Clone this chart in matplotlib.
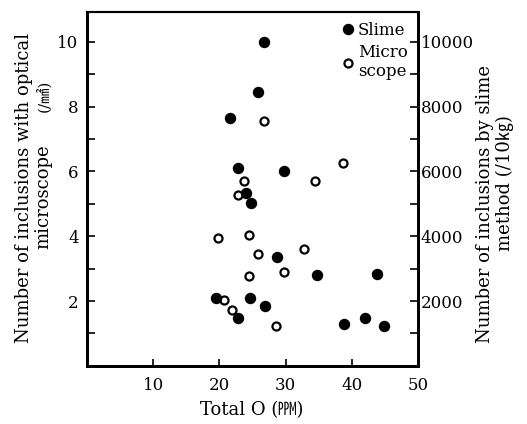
import numpy as np
import matplotlib
matplotlib.use("Agg")
import matplotlib.pyplot as plt
from matplotlib.ticker import MultipleLocator

plt.rcParams["font.family"] = ["DejaVu Serif", "Noto Sans CJK JP"]

# ── data ────────────────────────────────────────────────────────────────────
slime_o = [26.7, 25.8, 21.6, 22.8, 29.8, 24.1, 24.8, 28.7, 34.8, 43.8,
           19.5, 24.7, 22.8, 26.9, 38.8, 42.0, 44.9]
slime_n = [10000, 8440, 7650, 6110, 6010, 5340, 5030, 3360, 2800, 2830,
           2090, 2110, 1470, 1860, 1280, 1480, 1220]          # /10 kg

micro_o = [26.8, 23.8, 22.8, 19.8, 24.5, 25.8, 32.8, 29.7, 24.5, 20.7,
           21.9, 28.6, 38.7, 34.5]
micro_n = [7.55, 5.70, 5.27, 3.93, 4.04, 3.45, 3.60, 2.90, 2.76, 2.03,
           1.73, 1.24, 6.27, 5.70]                            # /mm2

x_ticks = [10, 20, 30, 40, 50]
left_ticks = [2, 4, 6, 8, 10]
right_ticks = [2000, 4000, 6000, 8000, 10000]

fig = plt.figure(figsize=(5.27, 4.24), dpi=100)
ax = fig.add_axes([0.165, 0.137, 0.628, 0.835])
ax2 = ax.twinx()

ax.plot(micro_o, micro_n, "o", ms=5.8, mfc="white", mec="black", mew=1.6,
        label="Micro\nscope", zorder=3)
ax2.plot(slime_o, slime_n, "o", ms=7.2, mfc="black", mec="black",
         label="Slime", zorder=3)

ax.set_xlim(0, 50)
ax.set_ylim(0, 10.92)
ax2.set_ylim(0, 10920)

ax.set_xticks(x_ticks)
ax.set_yticks(left_ticks)
ax.yaxis.set_minor_locator(MultipleLocator(1))
ax2.set_yticks(right_ticks)
ax2.yaxis.set_minor_locator(MultipleLocator(1000))

ax.tick_params(axis="x", direction="in", length=5, width=1.2, pad=8, labelsize=12)
ax.tick_params(axis="y", which="both", direction="in", length=6, width=1.2,
               pad=6, labelsize=12)
ax2.tick_params(axis="y", which="both", direction="in", length=6, width=1.2,
                pad=2, labelsize=12)

for a in (ax, ax2):
    for s in ("left", "bottom", "right"):
        a.spines[s].set_linewidth(2.0)
    a.spines["top"].set_linewidth(1.5)

# ── axis labels ─────────────────────────────────────────────────────────────
fig.text(0.045, 0.557, "Number of inclusions with optical", rotation=90,
         ha="center", va="center", fontsize=13)
fig.text(0.083, 0.535, "microscope", rotation=90,
         ha="center", va="center", fontsize=13)
fig.text(0.083, 0.775, "(/㎟)", rotation=90,
         ha="center", va="center", fontsize=11)

fig.text(0.921, 0.52, "Number of inclusions by slime", rotation=90,
         ha="center", va="center", fontsize=13)
fig.text(0.958, 0.568, "method (/10㎏)", rotation=90,
         ha="center", va="center", fontsize=13)

fig.text(0.478, 0.033, "Total O (㏙)", ha="center", va="center", fontsize=13)

h1, l1 = ax2.get_legend_handles_labels()
h2, l2 = ax.get_legend_handles_labels()
ax2.legend(h1 + h2, l1 + l2, loc="upper right", frameon=False, fontsize=12,
           handletextpad=0.1, borderpad=0, borderaxespad=0.6,
           labelspacing=0.3, handlelength=1.0)

fig.savefig("out.png", dpi=100)
